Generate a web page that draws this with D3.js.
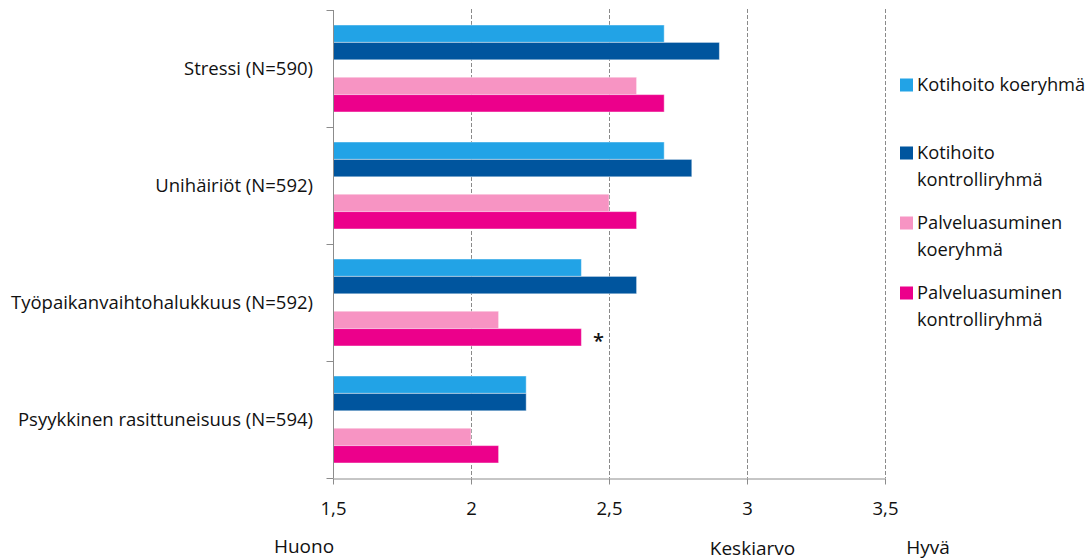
<!DOCTYPE html>
<html><head><meta charset="utf-8">
<script src="https://cdn.jsdelivr.net/npm/d3@7"></script>
<style>
html,body{margin:0;padding:0;background:#fff;}
svg{display:block;font-family:"Open Sans", sans-serif;}
</style></head>
<body>
<svg id="c" width="1091" height="560"></svg>
<script>
const categories = ["Stressi (N=590)", "Unihäiriöt (N=592)", "Työpaikanvaihtohalukkuus (N=592)", "Psyykkinen rasittuneisuus (N=594)"];
const seriesNames = ["Kotihoito koeryhmä", "Kotihoito kontrolliryhmä", "Palveluasuminen koeryhmä", "Palveluasuminen kontrolliryhmä"];
const legendLines = [["Kotihoito koeryhmä"], ["Kotihoito", "kontrolliryhmä"], ["Palveluasuminen", "koeryhmä"], ["Palveluasuminen", "kontrolliryhmä"]];
const seriesColors = ["#22A3E6", "#00559E", "#F794C3", "#EC008B"];
const kotihoitoKoe = [2.7, 2.7, 2.4, 2.2];
const kotihoitoKontrolli = [2.9, 2.8, 2.6, 2.2];
const palveluKoe = [2.6, 2.5, 2.1, 2.0];
const palveluKontrolli = [2.7, 2.6, 2.4, 2.1];
const seriesValues = [kotihoitoKoe, kotihoitoKontrolli, palveluKoe, palveluKontrolli];
const xTicks = [1.5, 2, 2.5, 3, 3.5];
const xTickLabels = ["1,5", "2", "2,5", "3", "3,5"];
const significance = [{cat: 2, series: 3, mark: "*"}];
const scaleLabels = [{text: "Huono", v: 1.5}, {text: "Keskiarvo", v: 3}, {text: "Hyvä", v: 3.5}];

const svg = d3.select("#c");
const x = d3.scaleLinear().domain([1.5, 3.5]).range([333, 885]);
const y = d3.scaleBand().domain(categories).range([10, 478]).padding(0);
const slotOf = [0, 1, 3, 4];
const inner = d3.scaleBand().domain([0,1,2,3,4]).range([15, y.bandwidth() - 15]).padding(0);

// gridlines
svg.append("g").selectAll("line").data(xTicks.slice(1)).join("line")
  .attr("x1", d => Math.round(x(d)) + 0.5).attr("x2", d => Math.round(x(d)) + 0.5)
  .attr("y1", 9).attr("y2", 478)
  .attr("stroke", "#8a8a8a").attr("stroke-width", 1).attr("stroke-dasharray", "4,2");

// bars
const rows = [];
categories.forEach((c, ci) => seriesValues.forEach((vals, si) => rows.push({c, ci, si, v: vals[ci]})));
svg.append("g").selectAll("rect").data(rows).join("rect")
  .attr("x", x(1.5))
  .attr("y", d => y(d.c) + inner(slotOf[d.si]))
  .attr("width", d => x(d.v) - x(1.5))
  .attr("height", inner.bandwidth())
  .attr("fill", d => seriesColors[d.si])
  .attr("stroke", "rgba(255,255,255,0.45)").attr("stroke-width", 1);

// significance marks
svg.append("g").selectAll("text").data(significance).join("text")
  .attr("x", d => x(seriesValues[d.series][d.cat]) + 17)
  .attr("y", d => y(categories[d.cat]) + inner(slotOf[d.series]) + inner.bandwidth()/2 + 11)
  .attr("text-anchor", "middle").attr("font-size", 20).attr("font-weight", 600).attr("fill", "#111")
  .text(d => d.mark);

// left axis
const yAxis = svg.append("g").attr("transform", "translate(333.5,0)");
yAxis.append("line").attr("x1", 0).attr("x2", 0).attr("y1", 10).attr("y2", 478).attr("stroke", "#8c8c8c");
const bounds = categories.map(c => y(c)).concat([y.range()[1]]);
yAxis.selectAll("line.t").data(bounds).join("line").attr("class", "t")
  .attr("x1", -7).attr("x2", 0).attr("y1", d => Math.round(d) + 0.5).attr("y2", d => Math.round(d) + 0.5)
  .attr("stroke", "#8c8c8c");
svg.append("g").selectAll("text").data(categories).join("text")
  .attr("x", 313).attr("y", d => y(d) + y.bandwidth()/2)
  .attr("dy", "0.35em").attr("text-anchor", "end").attr("font-size", 18.5).attr("fill", "#111")
  .text(d => d);

// bottom axis
const xAxis = svg.append("g").attr("transform", "translate(0,478.5)")
  .call(d3.axisBottom(x).tickValues(xTicks).tickFormat((d, i) => xTickLabels[i]).tickSize(6).tickPadding(17).tickSizeOuter(0));
xAxis.select(".domain").attr("stroke", "#8c8c8c");
xAxis.selectAll(".tick line").attr("stroke", "#8c8c8c");
xAxis.selectAll(".tick text").attr("font-size", 18.5).attr("fill", "#111").attr("font-family", "'Open Sans', sans-serif");

// scale descriptors
svg.append("g").selectAll("text").data(scaleLabels).join("text")
  .attr("x", (d, i) => [304, 752.5, 928][i]).attr("y", (d, i) => [553, 555, 554][i])
  .attr("text-anchor", "middle").attr("font-size", 19).attr("fill", "#111")
  .text(d => d.text);

// legend
const legY = [85, 153, 223, 293];
const leg = svg.append("g").selectAll("g").data(seriesNames).join("g")
  .attr("transform", (d, i) => `translate(900,${legY[i]})`);
leg.append("rect").attr("x", 0).attr("y", -6.5).attr("width", 13).attr("height", 13)
  .attr("fill", (d, i) => seriesColors[i]);
leg.append("text").attr("x", 17).attr("font-size", 18.3).attr("fill", "#111")
  .selectAll("tspan").data((d, i) => legendLines[i]).join("tspan")
  .attr("x", 17).attr("y", (d, j) => j * 27).attr("dy", "0.35em").text(d => d);
</script>
</body></html>
